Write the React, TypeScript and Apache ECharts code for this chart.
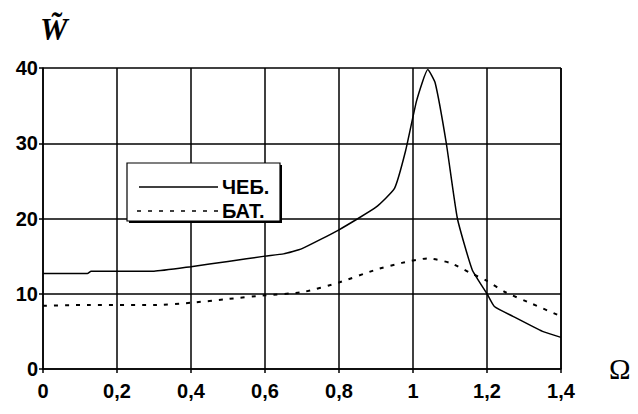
import React, { useEffect, useRef } from "react";
import * as echarts from "echarts";

const xTicks = [0, 0.2, 0.4, 0.6, 0.8, 1, 1.2, 1.4];
const yTicks = [0, 10, 20, 30, 40];

const chebX = [0, 0.12, 0.13, 0.3, 0.4, 0.5, 0.6, 0.65, 0.7, 0.8, 0.9, 0.95, 0.98, 1.01, 1.04, 1.06, 1.09, 1.12, 1.16, 1.2, 1.22, 1.27, 1.35, 1.4];
const chebY = [12.7, 12.7, 13.0, 13.0, 13.6, 14.3, 15.0, 15.3, 16.0, 18.5, 21.5, 24.0, 29, 35.7, 39.8, 38, 30, 20, 13.2, 10, 8.3, 7, 5, 4.2];

const batX = [0, 0.1, 0.3, 0.4, 0.5, 0.6, 0.7, 0.8, 0.9, 0.97, 1.04, 1.1, 1.15, 1.2, 1.25, 1.32, 1.4];
const batY = [8.4, 8.5, 8.5, 8.8, 9.3, 9.8, 10.2, 11.5, 13.2, 14.1, 14.7, 14.1, 12.9, 11.7, 10.2, 8.7, 7.0];

const seriesNames = ["ЧЕБ.", "БАТ."];

const fmt = (v: number) => String(v).replace(".", ",");

export default function App() {
  const ref = useRef<HTMLDivElement>(null);
  useEffect(() => {
    document.body.style.margin = "0";
    const chart = echarts.init(ref.current!, null, { renderer: "svg" });
    const labelFont = {
      fontFamily: "Liberation Sans",
      fontWeight: "bold" as const,
      fontSize: 20,
      color: "#000",
    };
    chart.setOption({
      animation: false,
      backgroundColor: "#fff",
      grid: { left: 43, right: 77, top: 68, bottom: 45, containLabel: false },
      xAxis: {
        type: "value",
        min: 0,
        max: 1.4,
        interval: 0.2,
        axisLine: { show: true, lineStyle: { color: "#000", width: 1.5 } },
        axisTick: { show: true, length: 4, lineStyle: { color: "#000", width: 1.5 } },
        splitLine: { show: true, lineStyle: { color: "#000", width: 1.5 } },
        axisLabel: { ...labelFont, margin: 12, formatter: (v: number) => fmt(Math.round(v * 10) / 10) },
      },
      yAxis: {
        type: "value",
        min: 0,
        max: 40,
        interval: 10,
        axisLine: { show: true, lineStyle: { color: "#000", width: 1.5 } },
        axisTick: { show: true, length: 4, lineStyle: { color: "#000", width: 1.5 } },
        splitLine: { show: true, lineStyle: { color: "#000", width: 1.5 } },
        axisLabel: { ...labelFont, margin: 5 },
      },
      series: [
        {
          name: seriesNames[0],
          type: "line",
          data: chebX.map((x, i) => [x, chebY[i]]),
          showSymbol: false,
          smooth: 0.15,
          lineStyle: { color: "#000", width: 1.5 },
          z: 5,
        },
        {
          name: seriesNames[1],
          type: "line",
          data: batX.map((x, i) => [x, batY[i]]),
          showSymbol: false,
          smooth: 0.2,
          lineStyle: { color: "#000", width: 2, type: [4, 7] },
          z: 5,
        },
      ],
      graphic: [
        { type: "line", shape: { x1: 561, y1: 68, x2: 561, y2: 369 }, style: { stroke: "#000", lineWidth: 1.5 }, z: 3 },
        { type: "rect", shape: { x: 129, y: 165, width: 153, height: 58 }, style: { fill: "#000" }, z: 10 },
        { type: "rect", shape: { x: 127, y: 163, width: 153, height: 58 }, style: { fill: "#fff", stroke: "#000", lineWidth: 1.2 }, z: 11 },
        { type: "line", shape: { x1: 139, y1: 187, x2: 218, y2: 187 }, style: { stroke: "#000", lineWidth: 1.5 }, z: 12 },
        { type: "text", x: 222, y: 187, style: { text: seriesNames[0], ...labelFont, fill: "#000", verticalAlign: "middle", align: "left", fontSize: 20 }, z: 12 },
        { type: "line", shape: { x1: 137, y1: 211, x2: 218, y2: 211 }, style: { stroke: "#000", lineWidth: 1.5, lineDash: [4, 7] }, z: 12 },
        { type: "text", x: 222, y: 211, style: { text: seriesNames[1], ...labelFont, fill: "#000", verticalAlign: "middle", align: "left", fontSize: 20 }, z: 12 },
        { type: "text", x: 40, y: 14, style: { text: "W\u0303", fontFamily: "Liberation Serif", fontStyle: "italic", fontWeight: "bold", fontSize: 31, fill: "#000" }, z: 12 },
        { type: "text", x: 609, y: 354, style: { text: "Ω", fontFamily: "Liberation Serif", fontSize: 29, fill: "#000" }, z: 12 },
      ],
    });
    return () => chart.dispose();
  }, []);
  return <div ref={ref} style={{ width: 638, height: 414 }} />;
}
